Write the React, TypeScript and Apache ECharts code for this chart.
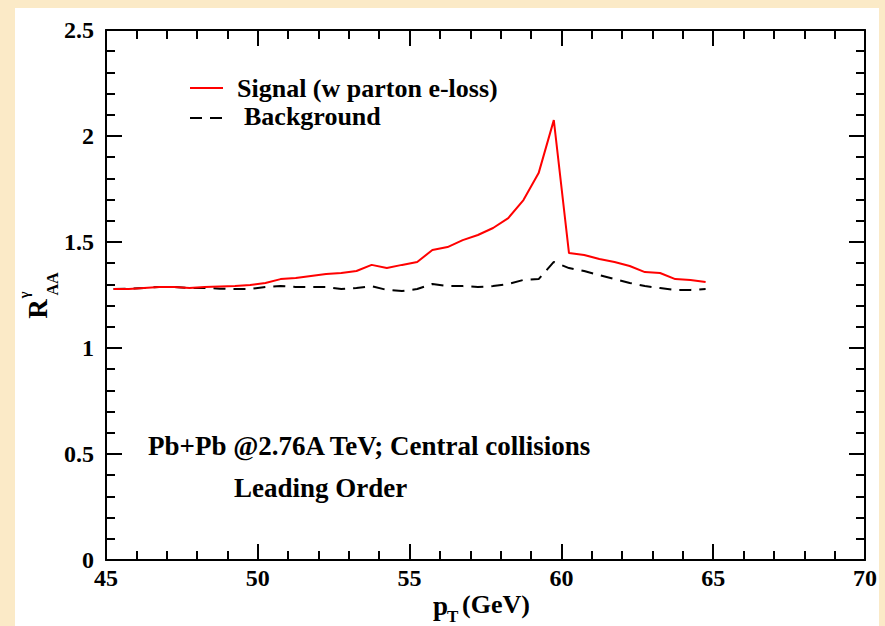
import React, { useEffect, useRef } from "react";
import * as echarts from "echarts";

const ptValues = [
  45.25, 45.75, 46.25, 46.75, 47.25, 47.75, 48.25, 48.75, 49.25, 49.75,
  50.25, 50.75, 51.25, 51.75, 52.25, 52.75, 53.25, 53.75, 54.25, 54.75,
  55.25, 55.75, 56.25, 56.75, 57.25, 57.75, 58.25, 58.75, 59.25, 59.75,
  60.25, 60.75, 61.25, 61.75, 62.25, 62.75, 63.25, 63.75, 64.25, 64.75,
];

const signalValues = [
  1.278, 1.278, 1.283, 1.288, 1.288, 1.283, 1.288, 1.29, 1.292, 1.297,
  1.307, 1.325, 1.33, 1.34, 1.349, 1.354, 1.363, 1.392, 1.377, 1.392,
  1.406, 1.462, 1.476, 1.509, 1.533, 1.566, 1.613, 1.698, 1.825, 2.075,
  1.448, 1.439, 1.42, 1.406, 1.387, 1.358, 1.354, 1.325, 1.321, 1.311,
];

const backgroundValues = [
  1.278, 1.28, 1.283, 1.288, 1.288, 1.283, 1.283, 1.28, 1.278, 1.278,
  1.288, 1.292, 1.288, 1.288, 1.288, 1.278, 1.283, 1.292, 1.274, 1.269,
  1.278, 1.302, 1.292, 1.292, 1.288, 1.292, 1.302, 1.321, 1.325, 1.406,
  1.377, 1.363, 1.344, 1.325, 1.307, 1.292, 1.283, 1.274, 1.274, 1.278,
];

const seriesNames = ["Signal (w parton e-loss)", "Background"];
const annotationLines = ["Pb+Pb @2.76A TeV; Central collisions", "Leading Order"];

const FONT = "Liberation Serif";
const DASH = [12, 8];

function makeXAxis(position: "bottom" | "top", showLabel: boolean) {
  return {
    type: "value",
    position,
    min: 45,
    max: 70,
    interval: 5,
    axisLine: { show: true, onZero: false, lineStyle: { color: "#000", width: 2 } },
    axisTick: { show: true, inside: true, length: 16, lineStyle: { color: "#000", width: 2 } },
    minorTick: { show: true, splitNumber: 5, length: 9, lineStyle: { color: "#000", width: 2 } },
    splitLine: { show: false },
    axisLabel: {
      show: showLabel,
      fontFamily: FONT,
      fontWeight: "bold",
      fontSize: 24,
      color: "#000",
      margin: 8,
      lineHeight: 20,
    },
  };
}

function makeYAxis(position: "left" | "right", showLabel: boolean) {
  return {
    type: "value",
    position,
    min: 0,
    max: 2.5,
    interval: 0.5,
    axisLine: { show: true, onZero: false, lineStyle: { color: "#000", width: 2 } },
    axisTick: { show: true, inside: true, length: 16, lineStyle: { color: "#000", width: 2 } },
    minorTick: { show: true, splitNumber: 5, length: 9, lineStyle: { color: "#000", width: 2 } },
    splitLine: { show: false },
    axisLabel: {
      show: showLabel,
      fontFamily: FONT,
      fontWeight: "bold",
      fontSize: 24,
      color: "#000",
      margin: 12,
      lineHeight: 14,
    },
  };
}

export default function App() {
  const ref = useRef<HTMLDivElement>(null);

  useEffect(() => {
    document.body.style.margin = "0";
    if (!ref.current) return;
    const chart = echarts.init(ref.current, null, { renderer: "svg" });

    const signal = ptValues.map((x, i) => [x, signalValues[i]]);
    const background = ptValues.map((x, i) => [x, backgroundValues[i]]);

    const textStyleBase = {
      fontFamily: FONT,
      fontWeight: "bold",
      fill: "#000",
    };

    chart.setOption({
      animation: false,
      backgroundColor: "transparent",
      grid: { left: 106, right: 20, top: 30, bottom: 66, containLabel: false },
      xAxis: [makeXAxis("bottom", true), makeXAxis("top", false)],
      yAxis: [makeYAxis("left", true), makeYAxis("right", false)],
      series: [
        {
          name: seriesNames[0],
          type: "line",
          data: signal,
          symbol: "none",
          lineStyle: { color: "#ff0000", width: 2 },
          itemStyle: { color: "#ff0000" },
          z: 3,
        },
        {
          name: seriesNames[1],
          type: "line",
          data: background,
          symbol: "none",
          lineStyle: { color: "#000", width: 2, type: DASH },
          itemStyle: { color: "#000" },
          z: 2,
        },
      ],
      graphic: [
        // legend
        {
          type: "line",
          shape: { x1: 190, y1: 88, x2: 223, y2: 88 },
          style: { stroke: "#ff0000", lineWidth: 2 },
        },
        {
          type: "text",
          x: 237,
          y: 88,
          style: { ...textStyleBase, text: seriesNames[0], fontSize: 26, textVerticalAlign: "middle" },
        },
        {
          type: "line",
          shape: { x1: 190, y1: 118, x2: 223, y2: 118 },
          style: { stroke: "#000", lineWidth: 2, lineDash: DASH },
        },
        {
          type: "text",
          x: 244,
          y: 116,
          style: { ...textStyleBase, text: seriesNames[1], fontSize: 26, textVerticalAlign: "middle" },
        },
        // annotation
        {
          type: "text",
          x: 148,
          y: 446,
          style: { ...textStyleBase, text: annotationLines[0], fontSize: 27, textVerticalAlign: "middle" },
        },
        {
          type: "text",
          x: 234,
          y: 488,
          style: { ...textStyleBase, text: annotationLines[1], fontSize: 27, textVerticalAlign: "middle" },
        },
        // x-axis title: p_T (GeV)
        {
          type: "text",
          x: 433,
          y: 606,
          style: { ...textStyleBase, text: "p", fontSize: 27, textVerticalAlign: "middle" },
        },
        {
          type: "text",
          x: 447,
          y: 616,
          style: { ...textStyleBase, text: "T", fontSize: 17, textVerticalAlign: "middle" },
        },
        {
          type: "text",
          x: 462,
          y: 604,
          style: { ...textStyleBase, text: "(GeV)", fontSize: 26, textVerticalAlign: "middle" },
        },
        // y-axis title: R_AA^gamma (rotated)
        {
          type: "text",
          x: 38,
          y: 309,
          rotation: Math.PI / 2,
          style: { ...textStyleBase, text: "R", fontSize: 27, textAlign: "center", textVerticalAlign: "middle" },
        },
        {
          type: "text",
          x: 52,
          y: 284,
          rotation: Math.PI / 2,
          style: { ...textStyleBase, text: "AA", fontSize: 16, textAlign: "center", textVerticalAlign: "middle" },
        },
        {
          type: "text",
          x: 24,
          y: 295,
          rotation: Math.PI / 2,
          style: { ...textStyleBase, text: "γ", fontSize: 15, textAlign: "center", textVerticalAlign: "middle" },
        },
      ],
    });

    return () => chart.dispose();
  }, []);

  return (
    <div style={{ position: "relative", width: 885, height: 626, background: "#fbeac7", overflow: "hidden" }}>
      <div style={{ position: "absolute", left: 15, top: 8, width: 864, height: 618, background: "#ffffff" }} />
      <div ref={ref} style={{ position: "absolute", left: 0, top: 0, width: 885, height: 626 }} />
    </div>
  );
}
